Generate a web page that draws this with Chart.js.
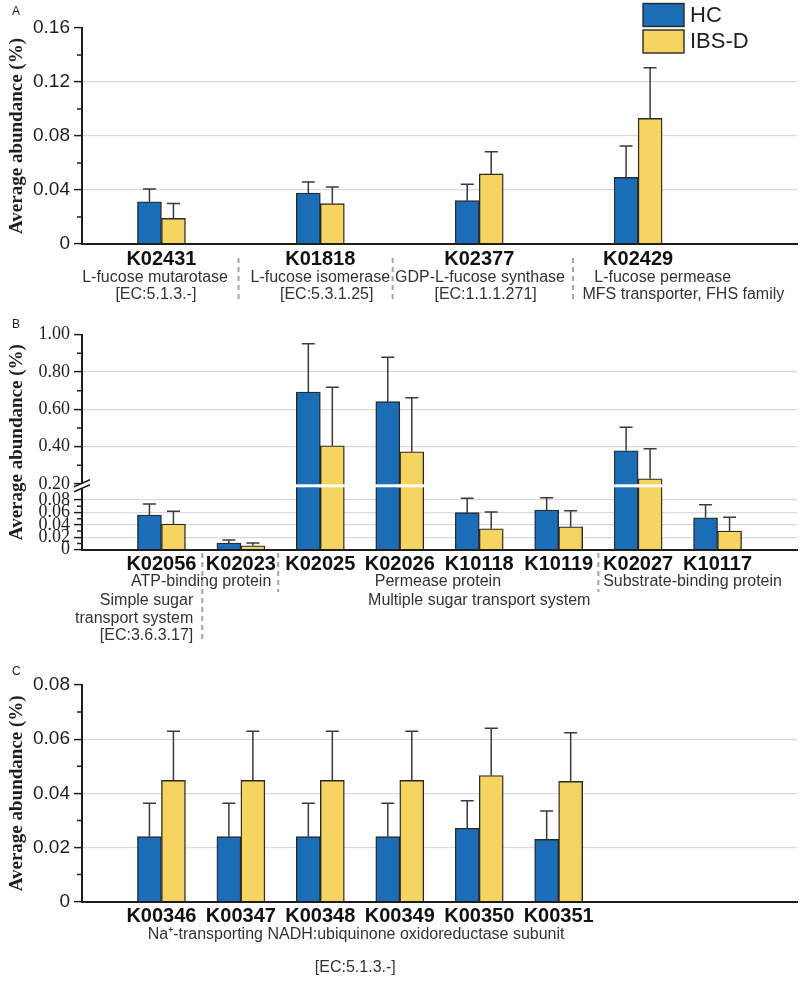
<!DOCTYPE html>
<html>
<head>
<meta charset="utf-8">
<script src="https://cdn.jsdelivr.net/npm/chart.js@4.4.1/dist/chart.umd.min.js"></script>
<style>
body{margin:0;background:#fff;width:800px;height:983px;position:relative;overflow:hidden}
canvas{position:absolute;left:0}
</style>
</head>
<body>
<canvas id="chartA" width="800" height="305" style="top:0"></canvas>
<canvas id="chartB" width="800" height="340" style="top:305px"></canvas>
<canvas id="chartC" width="800" height="338" style="top:645px"></canvas>
<script>
// ---- data ----
const seriesNames = ['HC', 'IBS-D'];

// panel A - fucose
const codesA = ['K02431', 'K01818', 'K02377', 'K02429'];
const hcA = [0.0313, 0.0378, 0.0321, 0.0494];
const hcSdA = [0.0094, 0.0081, 0.0121, 0.0232];
const ibsA = [0.019, 0.0299, 0.0519, 0.0931];
const ibsSdA = [0.011, 0.0123, 0.0165, 0.0375];
const ticksA = [0, 0.04, 0.08, 0.12, 0.16];
const minorA = [0.02, 0.06, 0.10, 0.14];

// panel B - sugar transport (broken axis)
const codesB = ['K02056', 'K02023', 'K02025', 'K02026', 'K10118', 'K10119', 'K02027', 'K10117'];
const hcB = [0.0559, 0.0108, 0.693, 0.641, 0.0596, 0.0639, 0.378, 0.0515];
const hcSdB = [0.0177, 0.0048, 0.259, 0.238, 0.0232, 0.0198, 0.126, 0.021];
const ibsB = [0.0414, 0.0064, 0.405, 0.373, 0.0338, 0.037, 0.228, 0.0301];
const ibsSdB = [0.0204, 0.0044, 0.313, 0.289, 0.0269, 0.0258, 0.161, 0.0221];
const ticksB = [0, 0.02, 0.04, 0.06, 0.08, 0.20, 0.40, 0.60, 0.80, 1.00];
const minorB = [0.01, 0.03, 0.05, 0.07, 0.3, 0.5, 0.7, 0.9];

// panel C - Na+ NADH
const codesC = ['K00346', 'K00347', 'K00348', 'K00349', 'K00350', 'K00351'];
const hcC = [0.024, 0.024, 0.024, 0.024, 0.0271, 0.023];
const hcSdC = [0.0123, 0.0123, 0.0123, 0.0123, 0.0102, 0.0105];
const ibsC = [0.0448, 0.0448, 0.0448, 0.0448, 0.0466, 0.0444];
const ibsSdC = [0.0181, 0.0181, 0.0181, 0.0181, 0.0174, 0.018];
const ticksC = [0, 0.02, 0.04, 0.06, 0.08];
const minorC = [0.01, 0.03, 0.05, 0.07];

// ---- styles ----
const SANS = '"Liberation Sans", Arial, sans-serif';
const SERIF = '"Liberation Serif", "Times New Roman", serif';
const BLUE = '#1b6db8', YELLOW = '#f5d460', INK = '#1e1e1e', GRID = '#dadada';

// broken axis transform for panel B
const brkLow = 0.1, brkHigh = 0.2;
function tfB(v) {
  if (v <= brkLow) return v * 6.21;
  if (v >= brkHigh) return 0.657 + (v - brkHigh) * 1.866;
  return 0.621 + (v - brkLow) / (brkHigh - brkLow) * 0.036;
}

function lbl(v) { return v === 0 ? '0' : v.toFixed(2); }

function makePanel(id, cfg) {
  const canvas = document.getElementById(id);
  const H = canvas.height;
  const tf = cfg.tf || (v => v);
  const slot = cfg.slot || (i => i + 1);
  const mk = (vals, sds, name, color) => ({
    label: name,
    data: vals.map((v, i) => ({x: slot(i), y: tf(v)})),
    raw: vals, sd: sds,
    backgroundColor: color,
    borderColor: '#2a2a2a',
    borderWidth: 1.4,
    barThickness: 24
  });

  const decor = {
    id: 'decor',
    afterDatasetsDraw(chart) {
      const {ctx, scales: {x, y}} = chart;
      ctx.save();
      // white break line through tall bars
      if (cfg.breakVal) {
        const yb = y.getPixelForValue(cfg.breakVal);
        ctx.strokeStyle = '#fff'; ctx.lineWidth = 3;
        chart.data.datasets.forEach((ds, i) => {
          chart.getDatasetMeta(i).data.forEach((bar, j) => {
            if (ds.raw[j] > brkHigh) {
              ctx.beginPath();
              ctx.moveTo(bar.x - bar.width / 2 - 1.5, yb);
              ctx.lineTo(bar.x + bar.width / 2 + 1.5, yb);
              ctx.stroke();
            }
          });
        });
      }
      // error bars (upper half only)
      ctx.strokeStyle = '#3a3a3a'; ctx.lineWidth = 1.5;
      chart.data.datasets.forEach((ds, i) => {
        chart.getDatasetMeta(i).data.forEach((bar, j) => {
          const top = y.getPixelForValue(tf(ds.raw[j] + ds.sd[j]));
          ctx.beginPath();
          ctx.moveTo(bar.x, bar.y); ctx.lineTo(bar.x, top);
          ctx.moveTo(bar.x - 6.5, top); ctx.lineTo(bar.x + 6.5, top);
          ctx.stroke();
        });
      });
      ctx.restore();
    },
    afterDraw(chart) {
      const {ctx, chartArea, scales: {x, y}} = chart;
      ctx.save();
      // minor ticks
      ctx.strokeStyle = INK; ctx.lineWidth = 1.5;
      ctx.beginPath();
      cfg.minor.forEach(v => {
        const yy = y.getPixelForValue(tf(v));
        ctx.moveTo(chartArea.left - 5, yy); ctx.lineTo(chartArea.left, yy);
      });
      ctx.stroke();
      // axis break marks
      if (cfg.breakVal) {
        const yb = y.getPixelForValue(cfg.breakVal);
        const xl = chartArea.left;
        ctx.fillStyle = '#fff';
        ctx.beginPath();
        ctx.moveTo(xl - 8, yb + 1); ctx.lineTo(xl + 8, yb - 6);
        ctx.lineTo(xl + 8, yb - 1); ctx.lineTo(xl - 8, yb + 6);
        ctx.closePath(); ctx.fill();
        ctx.beginPath();
        ctx.moveTo(xl - 8, yb + 1); ctx.lineTo(xl + 8, yb - 6);
        ctx.moveTo(xl - 8, yb + 6); ctx.lineTo(xl + 8, yb - 1);
        ctx.stroke();
      }
      // panel letter
      ctx.fillStyle = INK; ctx.font = '12px ' + SANS;
      ctx.textAlign = 'left'; ctx.textBaseline = 'middle';
      ctx.fillText(cfg.letter, 12, cfg.letterY);
      // category codes
      ctx.font = 'bold 20px ' + SANS; ctx.fillStyle = '#111'; ctx.textAlign = 'center';
      cfg.codes.forEach((c, i) => ctx.fillText(c, x.getPixelForValue(slot(i)), cfg.codeY));
      // description lines
      ctx.font = '16px ' + SANS; ctx.fillStyle = '#333';
      cfg.notes.forEach(n => {
        ctx.textAlign = n.align || 'center';
        ctx.fillText(n.text, x.getPixelForValue(n.at), n.y);
      });
      // dashed separators
      ctx.strokeStyle = '#a5a5a5'; ctx.lineWidth = 2; ctx.setLineDash([5, 4]);
      cfg.seps.forEach(s => {
        const xx = x.getPixelForValue(s.at);
        ctx.beginPath(); ctx.moveTo(xx, s.y0); ctx.lineTo(xx, s.y1); ctx.stroke();
      });
      ctx.setLineDash([]);
      // legend
      if (cfg.legend) {
        chart.data.datasets.forEach((ds, i) => {
          const top = 3.5 + i * 26.5;
          ctx.fillStyle = ds.backgroundColor;
          ctx.fillRect(643, top, 41, 23);
          ctx.strokeStyle = '#2a2a2a'; ctx.lineWidth = 1.4;
          ctx.strokeRect(643, top, 41, 23);
          ctx.fillStyle = INK; ctx.font = '22px ' + SANS; ctx.textAlign = 'left';
          ctx.fillText(ds.label, 690, top + 12);
        });
      }
      ctx.restore();
    }
  };

  return new Chart(canvas, {
    type: 'bar',
    data: {
      datasets: [
        mk(cfg.hc, cfg.hcSd, seriesNames[0], BLUE),
        mk(cfg.ibs, cfg.ibsSd, seriesNames[1], YELLOW)
      ]
    },
    options: {
      responsive: false,
      animation: false,
      layout: {padding: {top: cfg.top, right: 3, left: 0, bottom: 0}},
      plugins: {legend: {display: false}, tooltip: {enabled: false}},
      scales: {
        x: {
          type: 'linear', min: 0, max: 9, offset: false,
          ticks: {display: false},
          grid: {display: false},
          border: {color: INK, width: 2, z: 1},
          afterFit: s => { s.height = H - cfg.bottom; }
        },
        y: {
          min: 0, max: tf(cfg.ticks[cfg.ticks.length - 1]),
          afterBuildTicks: s => { s.ticks = cfg.ticks.map(v => ({value: tf(v)})); },
          afterFit: s => { s.width = 82; },
          ticks: {
            autoSkip: false, padding: 4, color: INK,
            font: cfg.tickFont,
            callback: (v, i) => lbl(cfg.ticks[i])
          },
          grid: {
            color: c => cfg.grid.some(g => Math.abs(tf(g) - c.tick.value) < 1e-6) ? GRID : 'transparent',
            lineWidth: 1.2, tickColor: INK, tickLength: 8, tickWidth: 1.5
          },
          border: {color: INK, width: 2},
          title: {
            display: true, text: 'Average abundance (%)', color: INK,
            font: {family: SERIF, size: 19, weight: 'bold'},
            padding: {top: 6, bottom: 0}
          }
        }
      }
    },
    plugins: [decor]
  });
}

makePanel('chartA', {
  codes: codesA, hc: hcA, hcSd: hcSdA, ibs: ibsA, ibsSd: ibsSdA,
  slot: i => i * 2 + 1,
  ticks: ticksA, minor: minorA, grid: [0.04, 0.08, 0.12],
  tickFont: {family: SANS, size: 19},
  top: 28, bottom: 244,
  letter: 'A', letterY: 12, codeY: 259, legend: true,
  notes: [
    {text: 'L-fucose mutarotase', at: 0.92, y: 278},
    {text: '[EC:5.1.3.-]', at: 0.93, y: 295},
    {text: 'L-fucose isomerase', at: 3.0, y: 278},
    {text: '[EC:5.3.1.25]', at: 3.08, y: 295},
    {text: 'GDP-L-fucose synthase', at: 5.01, y: 278},
    {text: '[EC:1.1.1.271]', at: 5.08, y: 295},
    {text: 'L-fucose permease', at: 7.31, y: 278},
    {text: 'MFS transporter, FHS family', at: 7.57, y: 295}
  ],
  seps: [
    {at: 1.97, y0: 258, y1: 303},
    {at: 3.91, y0: 258, y1: 303},
    {at: 6.18, y0: 258, y1: 303}
  ]
});

makePanel('chartB', {
  codes: codesB, hc: hcB, hcSd: hcSdB, ibs: ibsB, ibsSd: ibsSdB,
  tf: tfB, breakVal: 0.639,
  ticks: ticksB, minor: minorB, grid: [0.02, 0.04, 0.06, 0.08, 0.4, 0.6, 0.8],
  tickFont: {family: SERIF, size: 18},
  top: 29.7, bottom: 244.7,
  letter: 'B', letterY: 20, codeY: 259,
  notes: [
    {text: 'ATP-binding protein', at: 1.5, y: 277},
    {text: 'Simple sugar', at: 1.40, y: 296, align: 'right'},
    {text: 'transport system', at: 1.40, y: 314, align: 'right'},
    {text: '[EC:3.6.3.17]', at: 1.40, y: 331, align: 'right'},
    {text: 'Permease protein', at: 4.48, y: 277},
    {text: 'Multiple sugar transport system', at: 5.0, y: 296},
    {text: 'Substrate-binding protein', at: 6.56, y: 277, align: 'left'}
  ],
  seps: [
    {at: 1.514, y0: 248, y1: 337},
    {at: 2.47, y0: 248, y1: 287},
    {at: 6.5, y0: 248, y1: 287}
  ]
});

makePanel('chartC', {
  codes: codesC, hc: hcC, hcSd: hcSdC, ibs: ibsC, ibsSd: ibsSdC,
  ticks: ticksC, minor: minorC, grid: [0.02, 0.04, 0.06],
  tickFont: {family: SANS, size: 19},
  top: 40, bottom: 256.7,
  letter: 'C', letterY: 27, codeY: 271,
  notes: [
    {text: 'Na\u207A-transporting NADH:ubiquinone oxidoreductase subunit', at: 3.45, y: 290},
    {text: '[EC:5.1.3.-]', at: 3.44, y: 323}
  ],
  seps: []
});
</script>
</body>
</html>
